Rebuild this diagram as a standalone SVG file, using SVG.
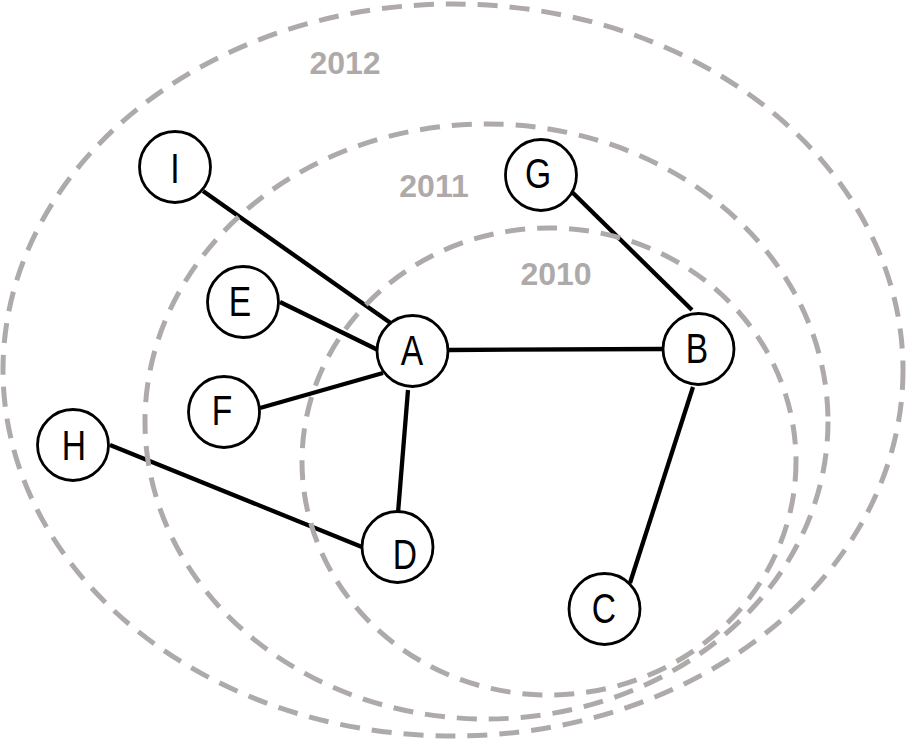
<svg xmlns="http://www.w3.org/2000/svg" width="907" height="740" viewBox="0 0 907 740">
<style>
.ring{fill:none;stroke:#aeaaaa;stroke-width:5;stroke-dasharray:20 12}
.yr{font-family:"Liberation Sans",Arial,sans-serif;font-weight:bold;font-size:32px;fill:#aeaaaa;text-anchor:middle}
.edge{stroke:#000;stroke-width:4.3;fill:none;stroke-linecap:butt}
.node circle{fill:#fff;stroke:#000;stroke-width:2.8}
.node text{font-family:"Liberation Sans",Arial,sans-serif;font-size:42px;fill:#000;text-anchor:middle}
</style>
<rect width="907" height="740" fill="#fff"/>
<g id="connectors">
<line class="edge" x1="203" y1="191" x2="392" y2="324"/>
<line class="edge" x1="280" y1="302" x2="378" y2="350"/>
<line class="edge" x1="260" y1="408" x2="383" y2="373"/>
<line class="edge" x1="448" y1="350" x2="663" y2="349"/>
<line class="edge" x1="408" y1="390" x2="398" y2="513"/>
<line class="edge" x1="110" y1="445" x2="362" y2="547"/>
<line class="edge" x1="572" y1="192" x2="692" y2="310"/>
<line class="edge" x1="693" y1="387" x2="630" y2="583"/>
</g>
<g id="rings">
<ellipse class="ring" cx="453" cy="370" rx="450" ry="366"/>
<ellipse class="ring" cx="486.5" cy="421.5" rx="341.5" ry="297.5"/>
<ellipse class="ring" cx="549" cy="461.5" rx="247" ry="233.5"/>
<text class="yr" x="345" y="74">2012</text>
<text class="yr" x="434" y="197">2011</text>
<text class="yr" x="556" y="285">2010</text>
</g>
<g id="node-I" class="node"><circle cx="175" cy="167" r="35.5"/><text transform="translate(175,183) scale(0.8,1)">I</text></g>
<g id="node-E" class="node"><circle cx="243" cy="302" r="35.5"/><text transform="translate(240,316) scale(0.8,1)">E</text></g>
<g id="node-F" class="node"><circle cx="224" cy="412" r="35.5"/><text transform="translate(222,425) scale(0.8,1)">F</text></g>
<g id="node-A" class="node"><circle cx="412.5" cy="351" r="35.5"/><text transform="translate(412,365) scale(0.8,1)">A</text></g>
<g id="node-G" class="node"><circle cx="541" cy="175" r="35.5"/><text transform="translate(538,188) scale(0.8,1)">G</text></g>
<g id="node-B" class="node"><circle cx="698.5" cy="349" r="35.5"/><text transform="translate(697,363) scale(0.8,1)">B</text></g>
<g id="node-H" class="node"><circle cx="73" cy="445" r="35.5"/><text transform="translate(74,460) scale(0.8,1)">H</text></g>
<g id="node-D" class="node"><circle cx="397.5" cy="547" r="35.5"/><text transform="translate(405,569) scale(0.8,1)">D</text></g>
<g id="node-C" class="node"><circle cx="604.5" cy="609" r="35.5"/><text transform="translate(604,623) scale(0.8,1)">C</text></g>
</svg>
